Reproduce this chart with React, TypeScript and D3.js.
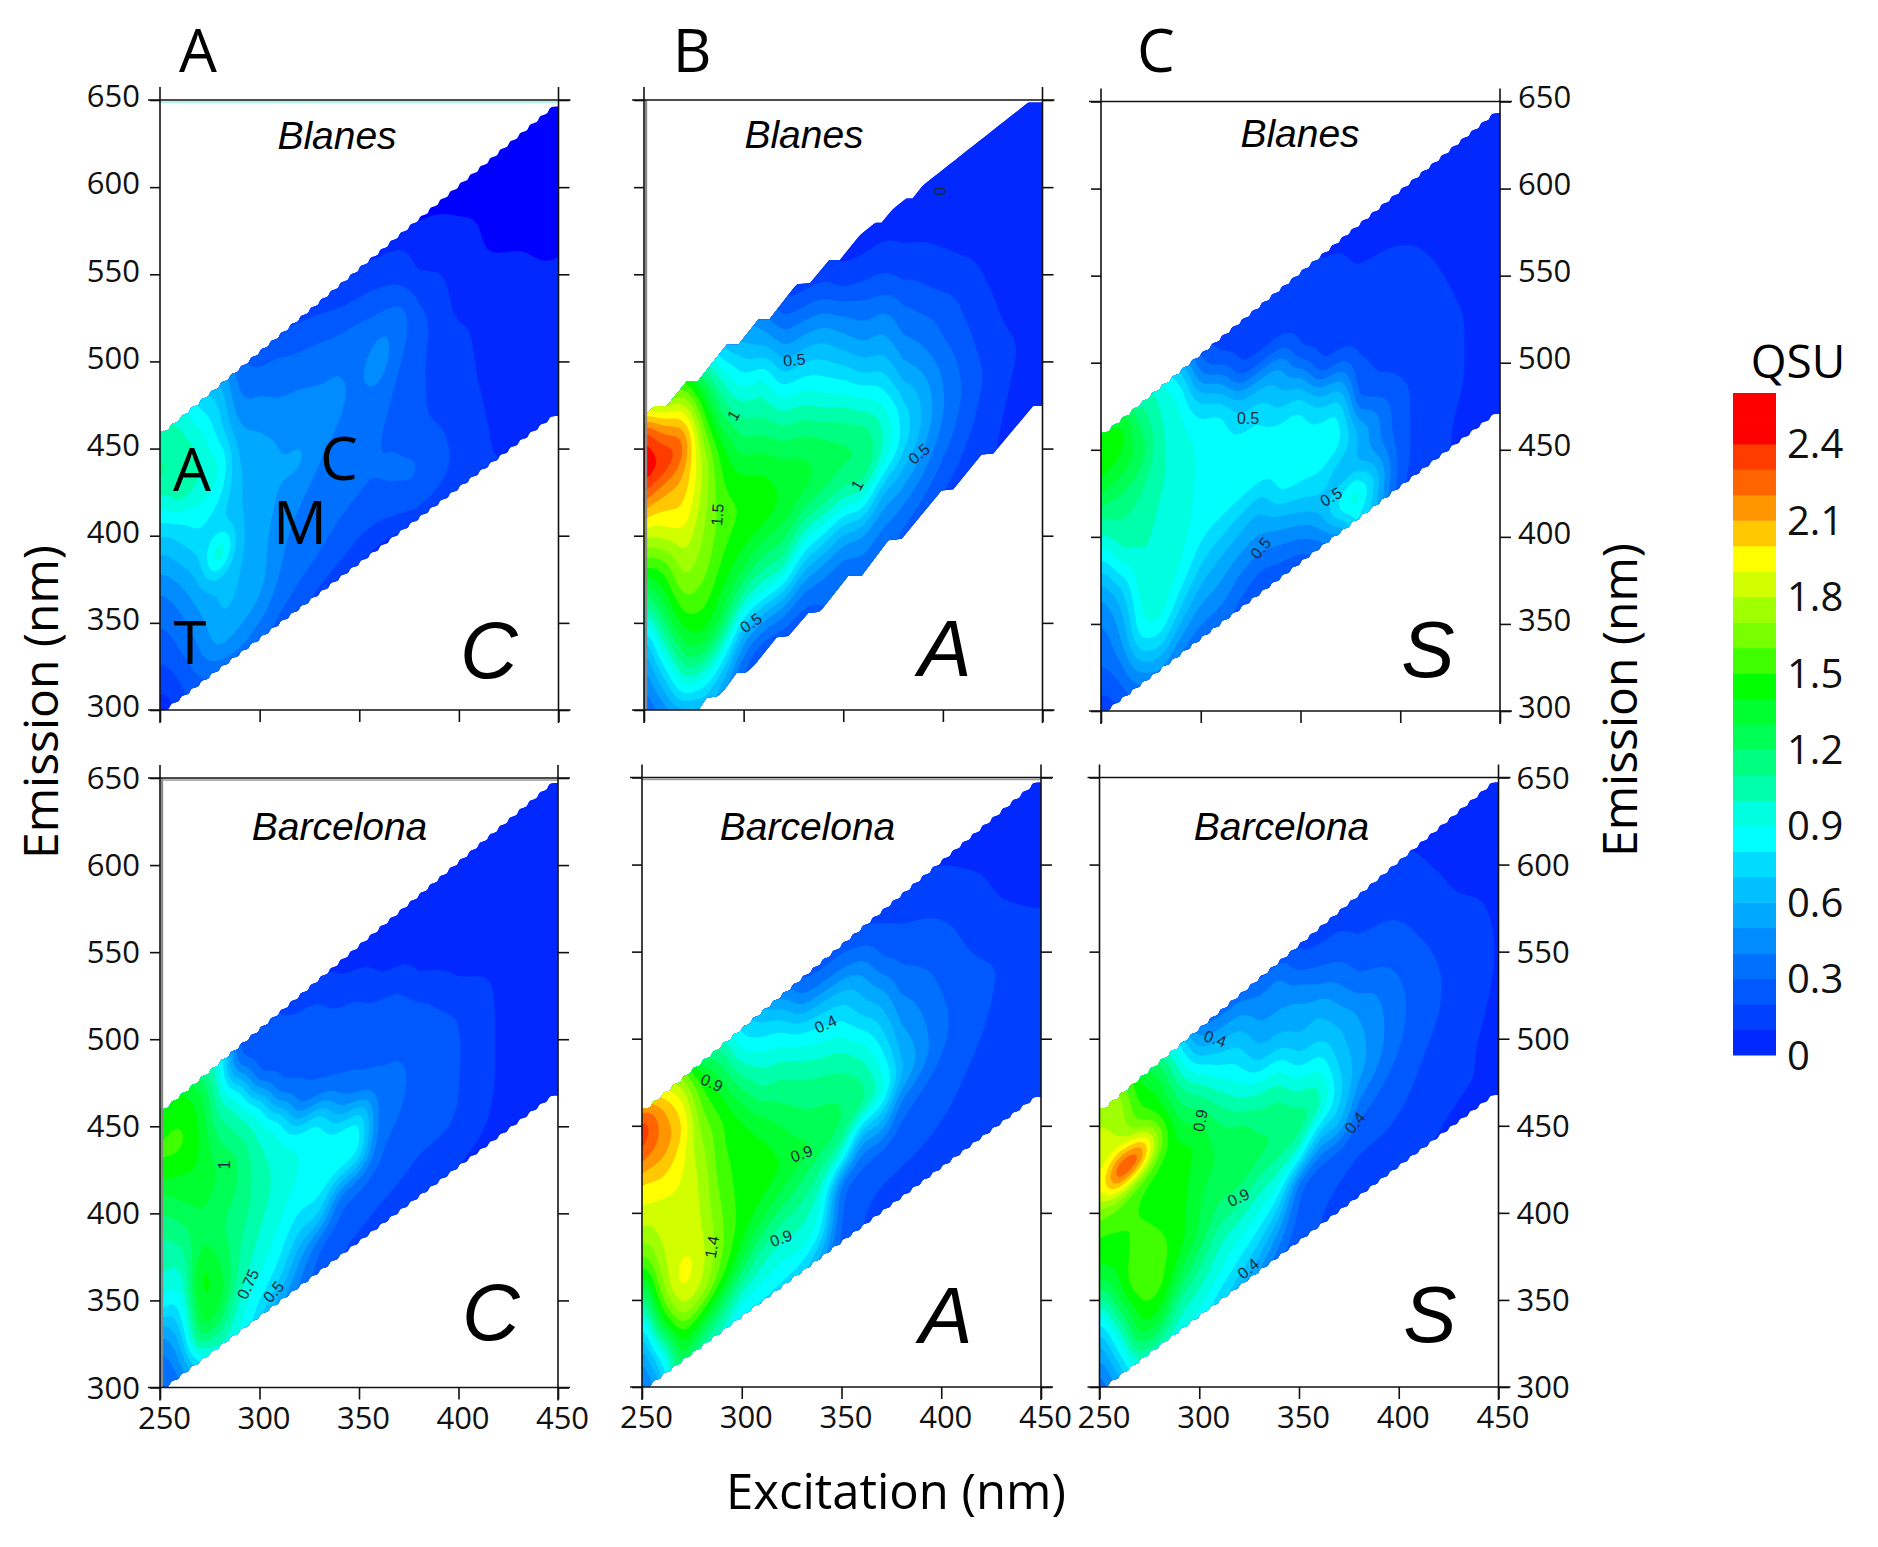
import { useEffect, useRef } from 'react';
import * as d3 from 'd3';

// excitation positions of the grid columns, each column runs from the low edge to the high edge of the band
const exCols = [250, 260, 270, 280, 290, 300, 310, 320, 330, 340, 350, 360, 370, 380, 400, 425, 450];

const blanesC = [
  [-0.02, 0.1, 0.2, 0.28, 0.35, 0.5, 0.65, 0.85, 1.12, 1.1, 1.05],
  [0.15, 0.22, 0.32, 0.38, 0.5, 0.65, 0.78, 1.1, 1.1, 1.05, 0.9],
  [0.25, 0.38, 0.45, 0.55, 0.65, 0.78, 0.9, 1.0, 1.0, 0.85, 0.7],
  [0.3, 0.55, 0.62, 0.62, 1.15, 0.68, 0.85, 0.95, 0.75, 0.7, 0.55],
  [0.35, 0.5, 0.6, 0.6, 0.6, 0.6, 0.6, 0.55, 0.45, 0.35, 0.3],
  [0.3, 0.45, 0.55, 0.55, 0.55, 0.55, 0.55, 0.5, 0.42, 0.3, 0.22],
  [0.25, 0.35, 0.4, 0.42, 0.48, 0.5, 0.5, 0.45, 0.35, 0.3, 0.15],
  [0.2, 0.3, 0.35, 0.38, 0.42, 0.55, 0.45, 0.42, 0.35, 0.25, 0.14],
  [0.15, 0.28, 0.32, 0.35, 0.38, 0.42, 0.42, 0.4, 0.33, 0.22, 0.12],
  [0.1, 0.25, 0.3, 0.32, 0.35, 0.4, 0.42, 0.4, 0.3, 0.18, 0.1],
  [0.08, 0.2, 0.3, 0.3, 0.35, 0.35, 0.38, 0.35, 0.3, 0.15, 0.08],
  [0.05, 0.2, 0.3, 0.3, 0.3, 0.35, 0.5, 0.4, 0.25, 0.14, 0.05],
  [0.05, 0.25, 0.32, 0.3, 0.28, 0.28, 0.32, 0.38, 0.2, 0.12, 0.02],
  [0.12, 0.3, 0.32, 0.22, 0.22, 0.22, 0.26, 0.2, 0.08, 0.05, -0.05],
  [0.12, 0.18, 0.15, 0.13, 0.12, 0.11, 0.05, 0.05, 0.03, -0.02, -0.05],
  [0.1, 0.05, 0.05, 0.05, 0.05, 0.05, 0.02, -0.05, -0.05, -0.05, -0.05],
  [0.1, 0.05, 0.05, 0.05, 0.05, -0.02, -0.05, -0.05, -0.05, -0.05, -0.05],
];

const blanesA = [
  [0.2, 0.25, 0.35, 0.5, 0.95, 1.35, 1.7, 2.1, 2.5, 2.5, 1.8],
  [0.25, 0.45, 0.75, 1.1, 1.35, 1.55, 1.9, 2.1, 2.45, 2.1, 1.45],
  [0.4, 0.9, 1.25, 1.5, 1.7, 1.85, 2.0, 2.1, 2.3, 1.9, 1.4],
  [0.6, 1.0, 1.4, 1.55, 1.65, 1.7, 1.75, 1.8, 1.6, 1.35, 0.95],
  [0.5, 0.85, 1.25, 1.4, 1.5, 1.55, 1.5, 1.4, 1.15, 0.95, 0.6],
  [0.25, 0.5, 0.95, 1.3, 1.45, 1.5, 1.35, 1.15, 0.95, 0.7, 0.5],
  [0.15, 0.45, 0.95, 1.2, 1.45, 1.45, 1.3, 1.1, 0.95, 0.6, 0.4],
  [0.2, 0.5, 1.0, 1.25, 1.4, 1.35, 1.15, 0.9, 0.6, 0.38, 0.15],
  [0.2, 0.4, 0.75, 1.1, 1.35, 1.3, 1.1, 0.85, 0.6, 0.35, 0.12],
  [0.28, 0.42, 0.75, 1.12, 1.3, 1.2, 0.95, 0.75, 0.55, 0.3, 0.1],
  [0.3, 0.38, 0.7, 1.1, 1.25, 1.1, 0.85, 0.6, 0.4, 0.15, 0.05],
  [0.35, 0.45, 0.85, 1.22, 1.2, 0.95, 0.65, 0.45, 0.3, 0.12, 0.06],
  [0.3, 0.4, 0.6, 1.0, 1.0, 0.8, 0.6, 0.45, 0.25, 0.12, 0.05],
  [0.25, 0.4, 0.6, 0.8, 0.75, 0.55, 0.4, 0.3, 0.15, 0.08, 0.04],
  [0.15, 0.25, 0.35, 0.4, 0.38, 0.3, 0.25, 0.12, 0.08, 0.05, 0.03],
  [0.1, 0.1, 0.12, 0.15, 0.1, 0.08, 0.05, 0.05, 0.05, 0.05, 0.05],
  [0.05, 0.05, 0.05, 0.05, 0.05, 0.05, 0.05, 0.05, 0.05, 0.05, 0.05],
];

const blanesS = [
  [0.1, 0.2, 0.3, 0.35, 0.45, 0.65, 0.95, 1.15, 1.4, 1.48, 1.35],
  [0.2, 0.32, 0.45, 0.55, 0.7, 1.0, 1.1, 1.2, 1.35, 1.5, 1.3],
  [0.35, 0.65, 0.9, 0.95, 1.0, 1.02, 1.05, 1.15, 1.3, 1.15, 1.0],
  [0.45, 0.75, 0.95, 0.98, 0.98, 0.98, 1.0, 1.02, 1.0, 0.98, 0.95],
  [0.35, 0.55, 0.75, 0.9, 0.93, 0.93, 0.95, 0.95, 0.93, 0.88, 0.55],
  [0.3, 0.45, 0.6, 0.75, 0.86, 0.88, 0.88, 0.87, 0.7, 0.35, 0.18],
  [0.3, 0.45, 0.55, 0.7, 0.85, 0.86, 0.85, 0.85, 0.55, 0.18, 0.15],
  [0.25, 0.35, 0.5, 0.65, 0.85, 0.85, 0.8, 0.6, 0.18, 0.14, 0.12],
  [0.2, 0.3, 0.48, 0.6, 0.85, 0.85, 0.8, 0.58, 0.18, 0.14, 0.12],
  [0.2, 0.35, 0.55, 0.85, 0.85, 0.85, 0.62, 0.55, 0.18, 0.14, 0.12],
  [0.2, 0.4, 0.65, 0.85, 0.85, 0.85, 0.6, 0.18, 0.15, 0.14, 0.12],
  [0.3, 0.55, 0.75, 0.85, 0.85, 0.62, 0.18, 0.15, 0.14, 0.12, 0.08],
  [0.4, 0.95, 0.55, 0.85, 0.85, 0.55, 0.18, 0.15, 0.14, 0.12, 0.05],
  [0.9, 1.05, 0.6, 0.6, 0.22, 0.18, 0.15, 0.13, 0.12, 0.05, 0.03],
  [0.15, 0.18, 0.2, 0.2, 0.18, 0.18, 0.18, 0.15, 0.1, 0.05, 0.03],
  [0.1, 0.1, 0.12, 0.12, 0.12, 0.1, 0.08, 0.05, 0.03, 0.03, 0.03],
  [0.05, 0.05, 0.05, 0.05, 0.05, 0.05, 0.05, 0.05, 0.05, 0.05, 0.05],
];

const barcelonaC = [
  [0.25, 0.3, 0.45, 0.85, 1.0, 1.05, 1.15, 1.35, 1.52, 1.48, 1.4],
  [0.35, 0.5, 0.7, 0.85, 1.0, 1.15, 1.3, 1.42, 1.55, 1.48, 1.42],
  [0.7, 1.3, 1.42, 1.5, 1.32, 1.3, 1.38, 1.42, 1.42, 1.38, 1.1],
  [0.95, 1.25, 1.4, 1.3, 1.2, 1.25, 1.3, 1.2, 1.05, 0.95, 0.9],
  [0.9, 0.95, 1.05, 1.1, 1.15, 1.2, 1.2, 1.05, 0.9, 0.28, 0.22],
  [0.7, 0.85, 0.95, 1.0, 1.05, 1.05, 0.98, 0.88, 0.25, 0.22, 0.2],
  [0.5, 0.75, 0.85, 0.92, 0.97, 0.95, 0.88, 0.3, 0.25, 0.22, 0.2],
  [0.35, 0.5, 0.7, 0.85, 0.9, 0.88, 0.35, 0.28, 0.25, 0.22, 0.08],
  [0.25, 0.28, 0.75, 0.87, 0.88, 0.85, 0.3, 0.28, 0.25, 0.2, 0.06],
  [0.2, 0.25, 0.32, 0.87, 0.88, 0.45, 0.28, 0.25, 0.22, 0.1, 0.06],
  [0.15, 0.25, 0.3, 0.87, 0.88, 0.32, 0.28, 0.25, 0.2, 0.08, 0.05],
  [0.12, 0.22, 0.28, 0.32, 0.35, 0.3, 0.28, 0.25, 0.1, 0.06, 0.05],
  [0.1, 0.2, 0.25, 0.3, 0.32, 0.3, 0.28, 0.22, 0.08, 0.05, 0.05],
  [0.1, 0.18, 0.22, 0.25, 0.28, 0.28, 0.25, 0.1, 0.06, 0.05, 0.05],
  [0.08, 0.18, 0.22, 0.22, 0.22, 0.2, 0.08, 0.05, 0.05, 0.05, 0.05],
  [0.05, 0.05, 0.05, 0.05, 0.05, 0.05, 0.05, 0.05, 0.05, 0.05, 0.05],
  [0.08, 0.05, 0.05, 0.05, 0.05, 0.05, 0.05, 0.05, 0.05, 0.05, 0.05],
];

const barcelonaA = [
  [0.3, 0.4, 0.6, 0.95, 1.35, 1.65, 1.85, 1.95, 2.25, 2.45, 2.05],
  [0.6, 0.9, 1.4, 1.7, 1.8, 1.85, 1.88, 2.05, 2.2, 2.15, 1.85],
  [1.3, 1.5, 1.85, 2.0, 1.88, 1.88, 1.9, 1.95, 2.05, 1.9, 1.6],
  [1.0, 1.4, 1.8, 1.85, 1.82, 1.8, 1.78, 1.7, 1.6, 1.45, 1.1],
  [0.95, 1.2, 1.55, 1.62, 1.6, 1.55, 1.5, 1.52, 1.4, 1.2, 0.95],
  [0.75, 1.0, 1.3, 1.45, 1.45, 1.45, 1.47, 1.35, 1.1, 0.85, 0.7],
  [0.75, 0.95, 1.1, 1.35, 1.45, 1.45, 1.35, 1.1, 0.95, 0.75, 0.55],
  [0.75, 0.9, 1.05, 1.25, 1.42, 1.35, 1.2, 1.1, 0.9, 0.68, 0.3],
  [0.7, 0.95, 1.05, 1.2, 1.35, 1.22, 1.15, 1.0, 0.75, 0.38, 0.22],
  [0.5, 0.85, 0.95, 1.1, 1.3, 1.2, 1.1, 0.9, 0.7, 0.35, 0.2],
  [0.25, 0.25, 0.3, 1.05, 1.22, 1.18, 1.05, 0.85, 0.65, 0.35, 0.2],
  [0.2, 0.22, 0.28, 0.5, 1.18, 1.1, 0.9, 0.65, 0.55, 0.3, 0.15],
  [0.15, 0.2, 0.25, 0.65, 1.0, 0.85, 0.7, 0.55, 0.3, 0.22, 0.12],
  [0.12, 0.2, 0.25, 0.32, 0.65, 0.55, 0.45, 0.32, 0.25, 0.18, 0.1],
  [0.1, 0.18, 0.22, 0.25, 0.3, 0.3, 0.28, 0.25, 0.2, 0.12, 0.08],
  [0.1, 0.15, 0.15, 0.18, 0.2, 0.22, 0.15, 0.1, 0.08, 0.05, 0.05],
  [0.12, 0.12, 0.1, 0.1, 0.1, 0.1, 0.08, 0.06, 0.05, 0.05, 0.05],
];

const barcelonaS = [
  [0.25, 0.4, 0.6, 0.95, 1.35, 1.45, 1.6, 1.88, 1.85, 1.8, 1.8],
  [0.55, 0.8, 1.1, 1.4, 1.45, 1.5, 1.6, 2.5, 1.8, 1.78, 1.7],
  [0.95, 1.35, 1.5, 1.65, 1.55, 1.5, 1.5, 2.45, 1.6, 1.45, 1.35],
  [1.0, 1.35, 1.55, 1.55, 1.5, 1.45, 1.45, 1.7, 1.45, 1.35, 1.1],
  [0.9, 1.05, 1.3, 1.45, 1.45, 1.45, 1.45, 1.3, 1.15, 0.95, 0.7],
  [0.85, 1.0, 1.15, 1.3, 1.3, 1.35, 1.4, 1.2, 0.95, 0.55, 0.3],
  [0.7, 0.9, 1.0, 1.15, 1.25, 1.3, 1.2, 1.0, 0.75, 0.5, 0.25],
  [0.6, 0.8, 0.95, 1.15, 1.3, 1.3, 1.05, 0.85, 0.7, 0.5, 0.25],
  [0.45, 0.7, 0.9, 1.05, 1.25, 1.15, 0.98, 0.65, 0.5, 0.4, 0.2],
  [0.3, 0.5, 0.8, 1.05, 1.2, 1.15, 0.95, 0.65, 0.5, 0.45, 0.2],
  [0.22, 0.25, 0.3, 1.0, 1.2, 0.98, 0.7, 0.55, 0.5, 0.22, 0.15],
  [0.2, 0.22, 0.25, 0.6, 1.1, 0.95, 0.7, 0.6, 0.35, 0.2, 0.12],
  [0.15, 0.2, 0.25, 0.7, 0.75, 0.65, 0.6, 0.45, 0.3, 0.2, 0.12],
  [0.1, 0.18, 0.22, 0.35, 0.55, 0.55, 0.5, 0.3, 0.22, 0.15, 0.1],
  [0.12, 0.18, 0.22, 0.25, 0.3, 0.32, 0.3, 0.25, 0.2, 0.15, 0.1],
  [0.08, 0.1, 0.12, 0.15, 0.18, 0.18, 0.15, 0.1, 0.08, 0.05, 0.05],
  [0.1, 0.1, 0.08, 0.08, 0.08, 0.08, 0.08, 0.08, 0.05, 0.05, 0.05],
];

// colour bar, one colour per 0.1 QSU from 0 upwards
const bandColors = [
  '#0028ff', '#0040ff', '#0058ff', '#0070ff', '#008cff', '#00a8ff', '#00c0ff', '#00dcff', '#00ffff', '#00ffe0',
  '#00ffaa', '#00ff80', '#00ff55', '#00ff30', '#00ff00', '#40ff00', '#78ff00', '#a0ff00', '#d2ff00', '#ffff00',
  '#ffc800', '#ff9600', '#ff6400', '#ff3c00', '#ff0000', '#ff0000',
];
const underColor = '#0000ff';
const barTicks = [0, 0.3, 0.6, 0.9, 1.2, 1.5, 1.8, 2.1, 2.4];

const emTicks = [300, 350, 400, 450, 500, 550, 600, 650];
const exTicks = [250, 300, 350, 400, 450];

// stair shaped edges of the Blanes A panel
const stairLowEx = [277.3, 281.4, 288, 296.5, 302.3, 316.6, 322.4, 332.4, 338.3, 352.5, 359.2, 372.6, 379.3, 399.3, 405.2, 419.4, 425.3, 445.3, 450];
const stairLowEm = [300, 307, 308, 321.4, 321.4, 341.7, 342.5, 355.6, 356.4, 377, 377, 397.4, 398.2, 426, 426.6, 446.6, 447.2, 474.4, 474.4];
const stairHighEx = [250, 255.5, 261.4, 271.4, 276.8, 291.5, 297.3, 307.4, 312.9, 326.6, 333.3, 343, 348.3, 363.4, 369.2, 379.3, 384.8, 399.3, 404.7, 415.2, 420.2, 434.9, 450];
const stairHighEm = [468.9, 474.4, 474.4, 488.3, 488.3, 509.5, 509.5, 524, 524, 544.3, 544.8, 558.2, 558.2, 579.6, 579.6, 593.5, 593.5, 614.4, 614.4, 628.3, 628.3, 648.6, 648.6];

type Note = [string, number, number, number];

const panels = [
  {
    grid: blanesC, title: 'Blanes', titleX: 337, titleY: 149, kind: 'C', kindX: 489, kindY: 678, box: [160, 558.5, 100, 710], low: [300, 473], high: [460, 651], yLabels: 'left', labelDy: '0.22em', xLabels: false,
    notes: [] as Note[],
  },
  {
    grid: blanesA, title: 'Blanes', titleX: 804, titleY: 148, kind: 'A', kindX: 945, kindY: 676, box: [644, 1042.5, 100, 710], low: [278, 468], high: [470, 650], yLabels: 'none', labelDy: '0.22em', xLabels: false, stairs: true,
    notes: [['0', 398.5, 597.7, 90], ['0.5', 325.4, 500.9, -5], ['1', 294.8, 469, -60], ['0.5', 388, 447, -40], ['1', 357, 429, -60], ['1.5', 286.8, 412, -85], ['0.5', 303.7, 350, -35]] as Note[],
  },
  {
    grid: blanesS, title: 'Blanes', titleX: 1300, titleY: 147, kind: 'S', kindX: 1428, kindY: 677, box: [1101, 1500, 101.5, 711], low: [300, 475], high: [460, 648], yLabels: 'right', labelDy: '0.2em', xLabels: false,
    notes: [['0.5', 323.7, 468, 0], ['0.5', 365.3, 423, -30], ['0.5', 330, 393.5, -50]] as Note[],
  },
  {
    grid: barcelonaC, title: 'Barcelona', titleX: 339.5, titleY: 840, kind: 'C', kindX: 491, kindY: 1340, box: [160, 558, 778, 1387.5], low: [300, 472], high: [460, 652], yLabels: 'left', labelDy: '0.34em', xLabels: true,
    notes: [['1', 282.3, 427.7, -90], ['0.75', 294.2, 359.4, -65], ['0.5', 307, 355, -50]] as Note[],
  },
  {
    grid: barcelonaA, title: 'Barcelona', titleX: 807.5, titleY: 840, kind: 'A', kindX: 946, kindY: 1343, box: [642, 1041, 777.5, 1387], low: [300, 471], high: [460, 652], yLabels: 'none', labelDy: '0.22em', xLabels: true,
    notes: [['0.4', 342, 508.4, -25], ['0.9', 285, 474.7, 25], ['0.9', 330, 434, -20], ['0.9', 319.7, 385.4, -20], ['1.4', 285, 380.4, -80]] as Note[],
  },
  {
    grid: barcelonaS, title: 'Barcelona', titleX: 1281.5, titleY: 840, kind: 'S', kindX: 1430, kindY: 1342, box: [1099.5, 1498.5, 777.5, 1387], low: [300, 472], high: [460, 652], yLabels: 'right', labelDy: '0.34em', xLabels: true,
    notes: [['0.4', 308, 500, 20], ['0.9', 300.5, 453, -80], ['0.9', 319.6, 408.8, -25], ['0.4', 378, 451.8, -50], ['0.4', 324.5, 368, -40]] as Note[],
  },
];

const UP = 8; // grid refinement before contouring
const tickFont = '"Open Sans", sans-serif';

export default function App() {
  const ref = useRef<SVGSVGElement>(null);

  useEffect(() => {
    if (!ref.current) return;
    const svg = d3.select(ref.current);
    svg.selectAll('*').remove();

    const thresholds = [-1, ...bandColors.map((_, i) => i / 10)];
    const colorOf = (i: number) => (i === 0 ? underColor : bandColors[i - 1]);

    panels.forEach((p, pi) => {
      const [x0, x1, y0, y1] = p.box;
      const x = d3.scaleLinear().domain([250, 450]).range([x0, x1]);
      const y = d3.scaleLinear().domain([300, 650]).range([y1, y0]);
      const lowAt = d3.scaleLinear().domain([250, 450]).range(p.low);
      const highAt = d3.scaleLinear().domain([250, 450]).range(p.high);
      const exOfCol = d3.scaleLinear().domain(exCols.map((_, i) => i)).range(exCols);

      const nCols = exCols.length;
      const nRows = p.grid[0].length;
      const w = (nCols - 1) * UP + 1;
      const h = (nRows - 1) * UP + 1;
      const fine = new Float64Array(w * h);
      for (let j = 0; j < h; j++) {
        const r = j / UP;
        const r0 = Math.min(Math.floor(r), nRows - 2);
        for (let i = 0; i < w; i++) {
          const c = i / UP;
          const c0 = Math.min(Math.floor(c), nCols - 2);
          const a = c - c0;
          const b = r - r0;
          fine[j * w + i] =
            (1 - a) * (1 - b) * p.grid[c0][r0] + a * (1 - b) * p.grid[c0 + 1][r0] +
            (1 - a) * b * p.grid[c0][r0 + 1] + a * b * p.grid[c0 + 1][r0 + 1];
        }
      }
      d3.blur2({ data: fine, width: w, height: h }, 2);

      const contours = d3.contours().size([w, h]).smooth(true).thresholds(thresholds)(Array.from(fine));
      const margin = 5;
      const project = d3.geoTransform({
        point(gx: number, gy: number) {
          const col = Math.max(0, Math.min(nCols - 1, (gx - 0.5) / UP));
          const row = Math.max(0, Math.min(nRows - 1, (gy - 0.5) / UP));
          const ex = exOfCol(col);
          const lo = lowAt(ex) - margin;
          const hi = highAt(ex) + margin;
          const em = lo + (row / (nRows - 1)) * (hi - lo);
          (this as any).stream.point(x(ex), y(em));
        },
      });
      const path = d3.geoPath(project);

      // clip to the measured area of the panel
      let clipD: string;
      if ((p as any).stairs) {
        const top = stairHighEx.map((e, i) => [x(e), y(stairHighEm[i])]);
        const bottom = stairLowEx.map((e, i) => [x(e), y(stairLowEm[i])]).reverse();
        clipD = d3.line()([...top, ...bottom, [x(250), y(300)]] as [number, number][]) + 'Z';
      } else {
        // small scallops along both edges, one per 5 nm
        const stops = d3.range(250, 446, 5);
        const edge = (at: (e: number) => number) =>
          stops.flatMap(e => [[x(e), y(at(e))], [x(e + 5), y(at(e))]]) as [number, number][];
        const wave = d3.line().curve(d3.curveBasis);
        const top = wave(edge(highAt));
        const bottom = wave(edge(lowAt).reverse()) as string;
        clipD = top + 'L' + bottom.slice(1) + 'Z';
      }
      const clipId = `panel-clip-${pi}`;
      svg.append('clipPath').attr('id', clipId).append('path').attr('d', clipD);

      const g = svg.append('g');
      g.append('g')
        .attr('clip-path', `url(#${clipId})`)
        .selectAll('path')
        .data(contours)
        .join('path')
        .attr('d', d => path(d as any))
        .attr('fill', (_, i) => colorOf(i))
        .attr('fill-rule', 'evenodd');

      // faint second lines left over in the source figure
      if (pi === 1 || pi === 3) {
        g.append('line').attr('x1', x0 + 2).attr('x2', x0 + 2).attr('y1', y0).attr('y2', y1)
          .attr('stroke', '#8a8a8a').attr('stroke-width', 2.4);
      }
      if (pi === 3 || pi === 4) {
        g.append('line').attr('x1', x0).attr('x2', x1).attr('y1', y0 + 2).attr('y2', y0 + 2)
          .attr('stroke', '#9a9a9a').attr('stroke-width', 1.4);
      }
      if (pi === 0) {
        g.append('line').attr('x1', x0).attr('x2', x1).attr('y1', y0 + 2).attr('y2', y0 + 2)
          .attr('stroke', '#8ff0ee').attr('stroke-width', 1.5);
      }

      // frame, with the long lines running past the corners
      const frame = g.append('g').attr('stroke', '#111').attr('stroke-width', 1.6);
      [x0, x1].forEach(v => frame.append('line').attr('x1', v).attr('x2', v).attr('y1', y0 - 13).attr('y2', y1 + 13));
      [y0, y1].forEach(v => frame.append('line').attr('y1', v).attr('y2', v).attr('x1', x0 - 12).attr('x2', x1 + 12));

      const axisStyle = (sel: d3.Selection<SVGGElement, unknown, null, undefined>) => {
        sel.select('.domain').remove();
        sel.selectAll('.tick line').attr('stroke', '#111').attr('stroke-width', 1.6);
        sel.selectAll('.tick text').attr('fill', '#111').style('font-family', tickFont).style('font-size', '31px');
      };

      const leftAxis = g.append('g').attr('transform', `translate(${x0},0)`)
        .call(d3.axisLeft(y).tickValues(emTicks).tickSize(10).tickPadding(10).tickFormat(p.yLabels === 'left' ? d3.format('d') : () => ''));
      axisStyle(leftAxis as any);
      leftAxis.selectAll('.tick text').attr('dy', p.labelDy);

      const rightAxis = g.append('g').attr('transform', `translate(${x1},0)`)
        .call(d3.axisRight(y).tickValues(emTicks).tickSize(11).tickPadding(7).tickFormat(p.yLabels === 'right' ? d3.format('d') : () => ''));
      axisStyle(rightAxis as any);
      rightAxis.selectAll('.tick text').attr('dy', p.labelDy);

      const bottomAxis = g.append('g').attr('transform', `translate(0,${y1})`)
        .call(d3.axisBottom(x).tickValues(exTicks).tickSize(12).tickPadding(7).tickFormat(p.xLabels ? d3.format('d') : () => ''));
      axisStyle(bottomAxis as any);
      bottomAxis.selectAll('.tick text').attr('dx', 4);

      // contour labels
      g.append('g').selectAll('text').data(p.notes).join('text')
        .attr('transform', d => `translate(${x(d[1])},${y(d[2])}) rotate(${d[3]})`)
        .attr('text-anchor', 'middle').attr('dy', '0.35em')
        .attr('fill', '#1a2a3a')
        .style('font-family', 'Liberation Sans').style('font-size', '16px')
        .text(d => d[0]);

      g.append('text').attr('x', p.titleX).attr('y', p.titleY).attr('text-anchor', 'middle')
        .style('font-family', 'Liberation Sans').style('font-style', 'italic').style('font-size', '39px')
        .text(p.title);
      g.append('text').attr('x', p.kindX).attr('y', p.kindY).attr('text-anchor', 'middle')
        .style('font-family', 'Liberation Sans').style('font-style', 'italic').style('font-size', '80px')
        .text(p.kind);
    });

    const upright = (t: string, px: number, py: number, size: number, rotate = 0) =>
      svg.append('text')
        .attr('transform', `translate(${px},${py}) rotate(${rotate})`)
        .attr('text-anchor', 'middle')
        .style('font-family', tickFont).style('font-size', `${size}px`)
        .text(t);

    // group letters and peak letters
    upright('A', 198, 72, 60);
    upright('B', 692, 72, 60);
    upright('C', 1156, 72, 60);
    upright('A', 192, 491, 60);
    upright('C', 339, 480, 60);
    upright('M', 300, 544, 60);
    upright('T', 190, 664, 60);

    upright('Emission (nm)', 58, 702, 48, -90);
    upright('Emission (nm)', 1637, 700, 48, -90);
    upright('Excitation (nm)', 896, 1509, 49);
    upright('QSU', 1798, 378, 46);

    // colour bar
    const barY = d3.scaleLinear().domain([0, 2.6]).range([1055, 393]);
    svg.append('g').selectAll('rect').data(bandColors).join('rect')
      .attr('x', 1733).attr('width', 43)
      .attr('y', (_, i) => barY((i + 1) / 10))
      .attr('height', (_, i) => barY(i / 10) - barY((i + 1) / 10) + 0.5)
      .attr('fill', d => d);
    const barAxis = svg.append('g').attr('transform', 'translate(1776,0)')
      .call(d3.axisRight(barY).tickValues(barTicks).tickSize(0).tickPadding(11).tickFormat(v => (+v === 0 ? '0' : d3.format('.1f')(+v))));
    barAxis.select('.domain').remove();
    barAxis.selectAll('.tick text').attr('fill', '#111').style('font-family', tickFont).style('font-size', '40px').attr('dy', '0.35em');
  }, []);

  return <svg ref={ref} width={1878} height={1547} style={{ position: 'absolute', left: 0, top: 0, background: '#fff' }} />;
}
